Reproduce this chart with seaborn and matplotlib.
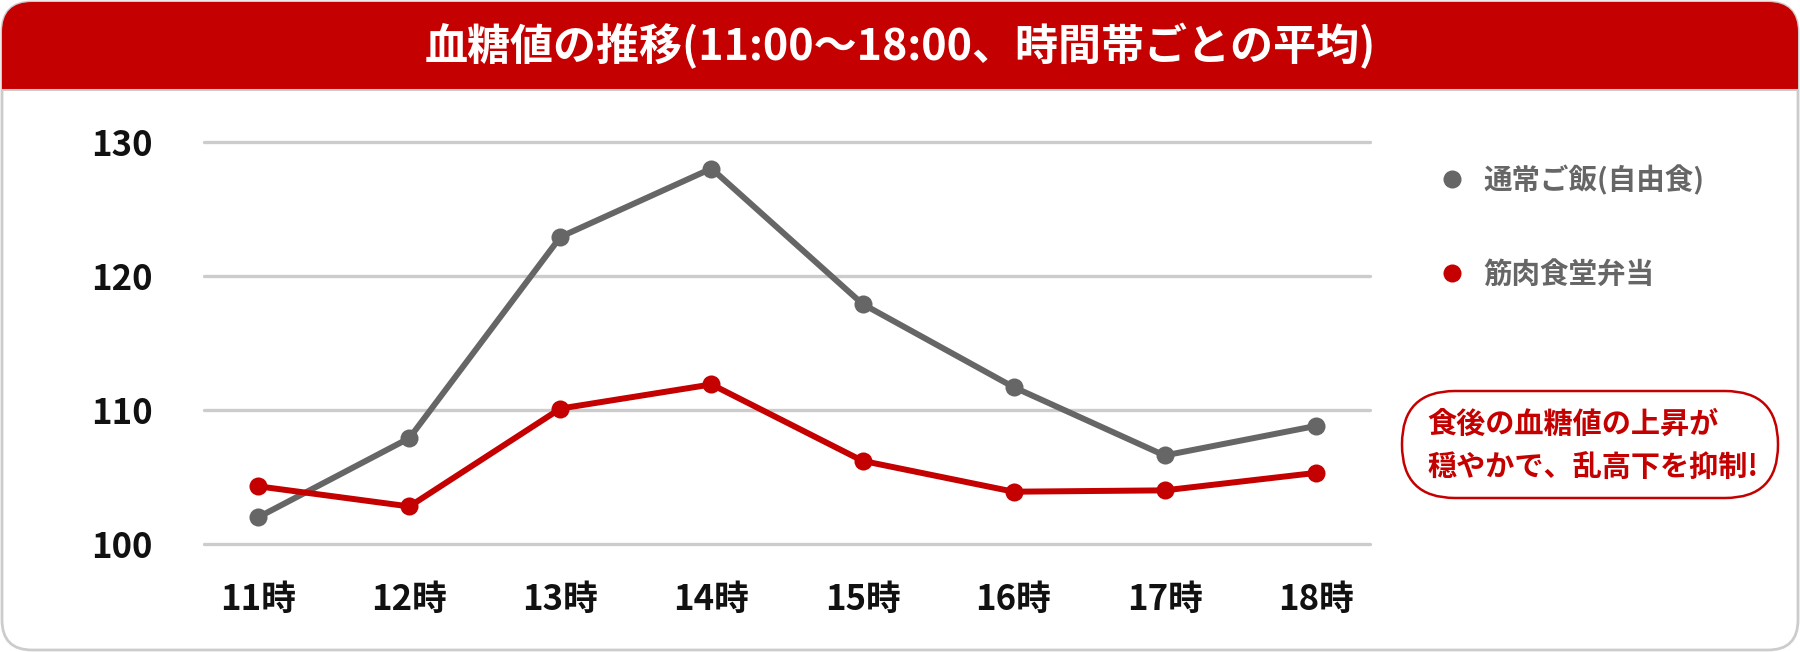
import matplotlib
matplotlib.use("Agg")
import matplotlib.pyplot as plt
import seaborn as sns
import pandas as pd
from matplotlib.patches import FancyBboxPatch, Rectangle
from matplotlib.lines import Line2D

# ---- data ----
hours = ["11時", "12時", "13時", "14時", "15時", "16時", "17時", "18時"]
normal_meal = [102.0, 107.9, 122.9, 128.0, 117.9, 111.7, 106.6, 108.8]
muscle_bento = [104.3, 102.8, 110.1, 111.9, 106.2, 103.9, 104.0, 105.3]
series_names = ["通常ご飯(自由食)", "筋肉食堂弁当"]
y_ticks = [100, 110, 120, 130]
title = "血糖値の推移(11:00〜18:00、時間帯ごとの平均)"
note = "食後の血糖値の上昇が\n穏やかで、乱高下を抑制!"

RED = "#C40000"
GRAY = "#666666"

df = pd.DataFrame({
    "hour": hours * 2,
    "value": normal_meal + muscle_bento,
    "series": [series_names[0]] * len(hours) + [series_names[1]] * len(hours),
})

sns.set_theme(style="white")
plt.rcParams["font.family"] = ["Noto Sans CJK JP", "DejaVu Sans"]
plt.rcParams["font.weight"] = "bold"

W, H = 1800, 652
fig = plt.figure(figsize=(W / 100, H / 100), dpi=100)

# ---- background card ----
bg = fig.add_axes([0, 0, 1, 1], zorder=0)
bg.set_xlim(0, W)
bg.set_ylim(H, 0)
bg.axis("off")
card = FancyBboxPatch((2, 2), W - 4, H - 4,
                      boxstyle="round,pad=0,rounding_size=30",
                      facecolor="white", edgecolor="#cccccc", linewidth=2)
bg.add_patch(card)
header = Rectangle((0, 0), W, 90, facecolor=RED, edgecolor="none")
bg.add_patch(header)
header.set_clip_path(card)
bg.plot([2, W - 2], [90, 90], color="#cccccc", lw=1.5)
bg.text(W / 2, 46, title, color="white", fontsize=31, fontweight="bold",
        ha="center", va="center")

# annotation bubble
bubble = FancyBboxPatch((1402, 391), 376, 107,
                        boxstyle="round,pad=0,rounding_size=53",
                        facecolor="white", edgecolor=RED, linewidth=1.8)
bg.add_patch(bubble)
bg.text(1427, 446, note, color=RED, fontsize=21, fontweight="bold",
        ha="left", va="center", linespacing=1.6)

# ---- main chart ----
ax = fig.add_axes([204 / W, 1 - 544 / H, (1370 - 204) / W, (544 - 141.7) / H], zorder=2)
ax.patch.set_alpha(0)
sns.lineplot(data=df, x="hour", y="value", hue="series",
             palette={series_names[0]: GRAY, series_names[1]: RED},
             hue_order=series_names, marker="o", markersize=13,
             markeredgewidth=0, linewidth=4.3, ax=ax, legend=False,
             clip_on=False, zorder=3)
ax.set_xlim(-0.36, len(hours) - 1 + 0.36)
ax.set_ylim(100, 130)
ax.set_yticks(y_ticks)
ax.set_yticklabels([str(t) for t in y_ticks])
ax.set_xlabel("")
ax.set_ylabel("")
for s in ax.spines.values():
    s.set_visible(False)
ax.grid(False)
for t in y_ticks:
    ax.axhline(t, color="#cccccc", linewidth=2.4, zorder=1, clip_on=False)
ax.tick_params(axis="y", length=0, pad=37, labelsize=25, labelcolor="#111111")
ax.tick_params(axis="x", length=0, pad=27, labelsize=25, labelcolor="#111111")
for lab in ax.get_xticklabels() + ax.get_yticklabels():
    lab.set_fontweight("bold")

# ---- legend ----
handles = [Line2D([], [], linestyle="none", marker="o", markersize=13,
                  markeredgewidth=0, color=c) for c in (GRAY, RED)]
leg = fig.legend(handles, series_names, loc="upper left",
                 bbox_to_anchor=(1412 / W, 1 - 139 / H), frameon=False,
                 fontsize=20.5, labelcolor=GRAY, handletextpad=0.6,
                 labelspacing=2.3, handlelength=1.0)
for t in leg.get_texts():
    t.set_fontweight("bold")

fig.savefig("out.png", dpi=100)
